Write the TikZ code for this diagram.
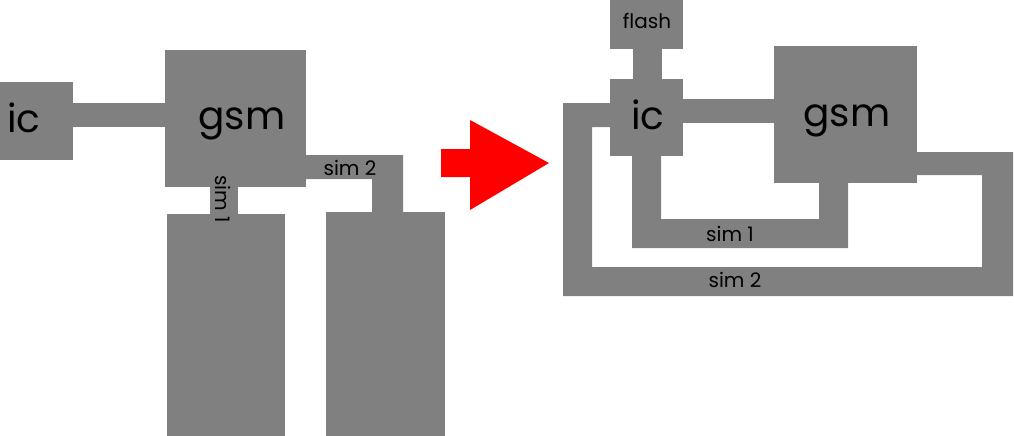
\documentclass[tikz,border=0pt]{standalone}
\usepackage{fontspec}
\setmainfont{Poppins}
\definecolor{boxgray}{HTML}{808080}
\tikzset{
  blk/.style={fill=boxgray, draw=none, inner sep=0pt, outer sep=0pt},
  wire/.style={fill=boxgray, draw=none},
  big/.style={font=\fontsize{39}{41}\selectfont, anchor=base, inner sep=0pt},
  small/.style={font=\fontsize{20}{22}\selectfont, anchor=base, inner sep=0pt},
}
\begin{document}
\begin{tikzpicture}[x=1pt,y=-1pt]
\useasboundingbox (0,0) rectangle (1014,436);
% ---------- left ----------
\node[blk, minimum width=73, minimum height=78] (icL) at (36.5,121) {};
\node[blk, minimum width=141, minimum height=137] (gsmL) at (235.5,118.5) {};
\node[blk, minimum width=118, minimum height=222] (simA) at (226,325) {};
\node[blk, minimum width=119, minimum height=224] (simB) at (385.5,324) {};
% ic - gsm
\fill[wire] (icL.east |- 0,103) rectangle (gsmL.west |- 0,127);
% sim 1
\fill[wire] (gsmL.south -| 210,0) rectangle (simA.north -| 238,0);
% sim 2
\fill[wire] (gsmL.east |- 0,155) -- (403,155) -- (simB.north -| 403,0) -- (simB.north -| 372,0)
  -- (372,179) -- (gsmL.east |- 0,179) -- cycle;
\node[big] (tIcL) at (24,132) {ic};
\node[big] (tGsmL) at (242,129) {gsm};
\node[small, anchor=center, rotate=-90] (tSim1L) at (223,199) {sim 1};
\node[small] (tSim2L) at (350,175) {sim 2};
% ---------- arrow ----------
\fill[red] (441,149) -- (470,149) -- (470,120) -- (549,163) -- (470,210) -- (470,177) -- (441,177) -- cycle;
% ---------- right ----------
\node[blk, minimum width=73, minimum height=49] (flash) at (646.5,24.5) {};
\node[blk, minimum width=73, minimum height=77] (icR) at (646.5,117.5) {};
\node[blk, minimum width=143, minimum height=137] (gsmR) at (845.5,114.5) {};
% flash - ic
\fill[wire] (flash.south -| 633,0) rectangle (icR.north -| 662,0);
% ic - gsm
\fill[wire] (icR.east |- 0,99) rectangle (gsmR.west |- 0,123);
% sim 1 loop
\fill[wire] (icR.south -| 632,0) -- (632,248) -- (848,248) -- (gsmR.south -| 848,0)
  -- (gsmR.south -| 819,0) -- (819,219) -- (661,219) -- (icR.south -| 661,0) -- cycle;
% sim 2 loop
\fill[wire] (icR.west |- 0,103) -- (563,103) -- (563,296) -- (1013,296) -- (1013,152)
  -- (gsmR.east |- 0,152) -- (gsmR.east |- 0,175) -- (982,175) -- (982,267) -- (592,267)
  -- (592,127) -- (icR.west |- 0,127) -- cycle;
\node[small] (tFlash) at (647,29) {flash};
\node[big] (tIcR) at (648,129) {ic};
\node[big] (tGsmR) at (847,126) {gsm};
\node[small] (tSim1R) at (730,241) {sim 1};
\node[small] (tSim2R) at (735,287) {sim 2};
\end{tikzpicture}
\end{document}
